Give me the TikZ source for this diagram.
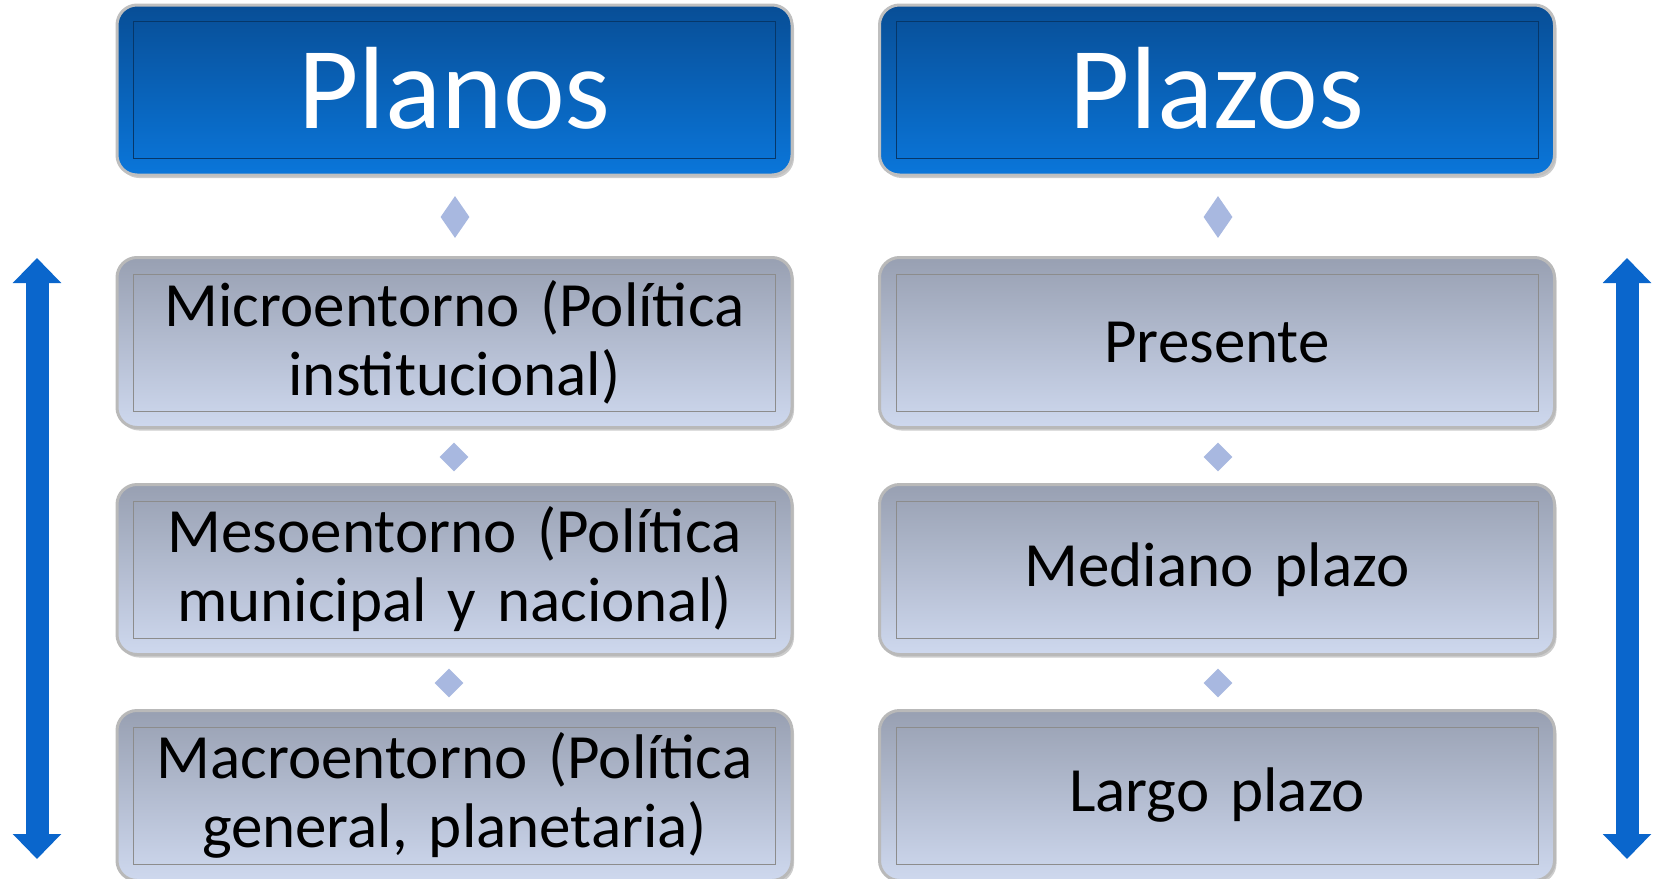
\documentclass[tikz,border=0pt]{standalone}
\usepackage{fontspec}
\setmainfont{Carlito}
\usetikzlibrary{arrows.meta, positioning, shapes.geometric, shadows}
\definecolor{hdtop}{RGB}{8,78,150}
\definecolor{hdbot}{RGB}{10,118,218}
\definecolor{bxtop}{RGB}{152,160,178}
\definecolor{bxbot}{RGB}{206,216,238}
\definecolor{sepblue}{RGB}{168,184,224}
\definecolor{arrblue}{RGB}{10,102,204}
\tikzset{
  hdbox/.style={rounded corners=20pt, top color=hdtop, bottom color=hdbot, draw=gray!50, line width=3pt,
    minimum width=675pt, minimum height=170pt, text=white, font=\fontsize{117}{120}\selectfont,
    drop shadow={shadow xshift=2pt, shadow yshift=-3pt, opacity=0.4}},
  itembox/.style={rounded corners=20pt, top color=bxtop, bottom color=bxbot, draw=gray!55, line width=3pt,
    minimum width=675pt, minimum height=170pt, text width=640pt, align=center,
    font=\fontsize{63}{69}\selectfont, drop shadow={shadow xshift=2pt, shadow yshift=-3pt, opacity=0.4}},
  hdframe/.style={draw=hdtop!70!black, line width=0.8pt},
  itemframe/.style={draw=gray!90, line width=0.8pt},
  sep/.style={diamond, fill=sepblue, inner sep=0pt, minimum width=29pt, minimum height=29pt},
  bigarrow/.style={draw=arrblue, line width=23pt, {Triangle[width=47pt 0 0,length=25pt 0 0]}-{Triangle[width=47pt 0 0,length=25pt 0 0]}}
}
\begin{document}
\begin{tikzpicture}[x=1pt,y=-1pt]
\useasboundingbox (0,0) rectangle (1661,878);

\node[hdbox] (pl) at (454.5,90) {\raisebox{4pt}{Planos}};
\node[hdbox] (pz) at (1217,90) {\raisebox{4pt}{Plazos}};

\node[itembox] (mic) at (454.5,342.5) {Microentorno (Política\\institucional)};
\node[itembox] (mes) at (454.5,569.5) {Mesoentorno (Política\\municipal y nacional)};
\node[itembox] (mac) at (454.5,795.5) {Macroentorno (Política\\general, planetaria)};
\node[itembox] (pre) at (1217,342.5) {Presente};
\node[itembox] (med) at (1217,569.5) {Mediano plazo};
\node[itembox] (lar) at (1217,795.5) {Largo plazo};

\foreach \n in {pl,pz}
  \draw[hdframe] ([xshift=18pt,yshift=-18pt]\n.north west) rectangle ([xshift=-18pt,yshift=18pt]\n.south east);
\foreach \n in {mic,mes,mac,pre,med,lar}
  \draw[itemframe] ([xshift=18pt,yshift=-18pt]\n.north west) rectangle ([xshift=-18pt,yshift=18pt]\n.south east);

\node[sep, minimum height=42pt] (d1) at (455,217) {};
\node[sep, minimum height=42pt] (d2) at (1218,217) {};
\node[sep] (d3) at (454,457) {};
\node[sep] (d4) at (1218,457) {};
\node[sep] (d5) at (449,683) {};
\node[sep] (d6) at (1218,683) {};

\coordinate (lt) at (37,258);
\coordinate (lb) at (37,859);
\coordinate (rt) at (1627,258);
\coordinate (rb) at (1627,859);
\draw[bigarrow] (lt) -- (lb);
\draw[bigarrow] (rt) -- (rb);
\end{tikzpicture}
\end{document}
